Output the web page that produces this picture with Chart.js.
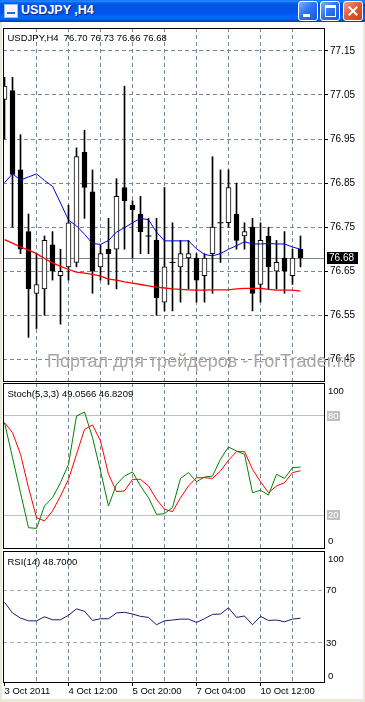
<!DOCTYPE html>
<html>
<head>
<meta charset="utf-8">
<script src="https://cdn.jsdelivr.net/npm/chart.js@4.4.1/dist/chart.umd.min.js"></script>
<style>
  html, body { margin: 0; padding: 0; background: #ece9d8; }
  #win { position: relative; width: 365px; height: 702px; overflow: hidden; }
  #title {
    position: absolute; left: 0; top: 0; width: 365px; height: 22px;
    background: linear-gradient(#0058ee 0%, #3593ff 4%, #288eff 6%, #127dff 8%, #036ffc 10%, #0262ee 14%,
      #0057e5 20%, #0054e3 24%, #0055eb 56%, #005bf5 66%, #026afe 76%, #0062ef 86%, #0052d6 92%, #0040ab 100%);
  }
  #title .txt {
    position: absolute; left: 21px; top: 4px; color: #fff;
    font: bold 12.5px "Liberation Sans", Arial, sans-serif; line-height: 13px;
    text-shadow: 1px 1px 0 #0a2a8a; white-space: pre;
  }
  #icon { position: absolute; left: 4px; top: 4px; width: 12px; height: 12px; background: #f4f8ff; border: 1px solid #9cc0f0; }
  #icon i { position: absolute; left: 2px; top: 7px; width: 8px; height: 2px; background: #2a6ad0; }
  .btn { position: absolute; top: 1px; width: 20px; height: 20px; box-sizing: border-box; border: 1px solid #fff; border-radius: 3px;
    background: linear-gradient(135deg, #7fb2ff 0%, #2f74f2 45%, #1a56dc 100%); }
  #bmin { left: 298px; } #bmax { left: 320px; }
  #bclose { left: 343px; background: linear-gradient(135deg, #f3a489 0%, #e35d33 45%, #c7421a 100%); }
  #bmin i { position: absolute; left: 4px; top: 12px; width: 7px; height: 3px; background: #fff; }
  #bmax i { position: absolute; left: 4px; top: 3px; width: 9px; height: 8px; border: 1px solid #fff; border-top-width: 3px; }
  #bclose i, #bclose b { position: absolute; left: 8px; top: 3px; width: 2px; height: 12px; background: #fff; }
  #bclose i { transform: rotate(45deg); } #bclose b { transform: rotate(-45deg); }
  #client { position: absolute; left: 2px; top: 22px; width: 361px; height: 677px; background: #fff; }
  canvas { position: absolute; left: 0; }
  #mark { position: absolute; left: 47px; top: 352px; white-space: pre; color: #aca4a4;
    font: 18px "Liberation Sans", Arial, sans-serif; line-height: 18px; }
</style>
</head>
<body>
<div id="win">
  <div id="title"><div id="icon"><i></i></div><div class="txt">USDJPY ,H4</div>
    <div class="btn" id="bmin"><i></i></div><div class="btn" id="bmax"><i></i></div><div class="btn" id="bclose"><i></i><b></b></div>
  </div>
  <div id="client"></div>
  <canvas id="cMain" width="365" height="362" style="top:22px"></canvas>
  <canvas id="cStoch" width="365" height="172" style="top:380px"></canvas>
  <canvas id="cRsi" width="365" height="154" style="top:548px"></canvas>
  <div id="mark">Портал для трейдеров - ForTrader.ru</div>
</div>
<script>
// USDJPY H4, bars from 3 Oct 2011 04:00
const symbol = "USDJPY", period = "H4";
const opens  = [77.04, 77.06, 76.88, 76.74, 76.60, 76.61, 76.71, 76.64, 76.66, 76.67,
                76.92, 76.83, 76.66, 76.70, 76.70, 76.84, 76.80, 76.78, 76.73, 76.72,
                76.58, 76.67, 76.66, 76.68, 76.68, 76.64, 76.69, 76.76, 76.76, 76.78,
                76.73, 76.75, 76.62, 76.73, 76.65, 76.68, 76.64, 76.70];
const highs  = [77.09, 77.09, 76.96, 76.78, 76.69, 76.73, 76.74, 76.70, 76.80, 76.93,
                76.97, 76.88, 76.71, 76.77, 76.86, 77.07, 76.81, 76.82, 76.77, 76.77,
                76.84, 76.76, 76.72, 76.72, 76.69, 76.69, 76.91, 76.88, 76.88, 76.85,
                76.76, 76.77, 76.76, 76.75, 76.72, 76.74, 76.70, 76.73];
const lows   = [76.95, 76.75, 76.69, 76.50, 76.52, 76.55, 76.63, 76.53, 76.63, 76.66,
                76.77, 76.60, 76.63, 76.62, 76.61, 76.70, 76.68, 76.69, 76.69, 76.55,
                76.56, 76.56, 76.58, 76.61, 76.58, 76.58, 76.60, 76.67, 76.75, 76.70,
                76.70, 76.56, 76.58, 76.61, 76.61, 76.60, 76.62, 76.66];
const closes = [77.07, 76.87, 76.70, 76.61, 76.62, 76.72, 76.65, 76.65, 76.76, 76.91,
                76.84, 76.65, 76.69, 76.69, 76.82, 76.81, 76.79, 76.74, 76.73, 76.59,
                76.66, 76.67, 76.69, 76.69, 76.63, 76.68, 76.75, 76.76, 76.84, 76.72,
                76.74, 76.60, 76.72, 76.66, 76.67, 76.65, 76.68, 76.68];
// moving averages drawn on the price chart
const maBlue = [76.851, 76.871, 76.857, 76.864, 76.871, 76.856, 76.843, 76.805, 76.766, 76.753,
                76.734, 76.713, 76.711, 76.720, 76.739, 76.749, 76.760, 76.770, 76.767, 76.739,
                76.719, 76.719, 76.719, 76.719, 76.701, 76.688, 76.685, 76.690, 76.700, 76.708,
                76.717, 76.712, 76.712, 76.713, 76.712, 76.712, 76.705, 76.700];
const maRed  = [76.722, 76.714, 76.705, 76.698, 76.690, 76.679, 76.669, 76.661, 76.654, 76.648,
                76.646, 76.643, 76.639, 76.632, 76.630, 76.626, 76.623, 76.620, 76.617, 76.614,
                76.612, 76.610, 76.609, 76.608, 76.607, 76.607, 76.608, 76.608, 76.608, 76.610,
                76.611, 76.611, 76.611, 76.609, 76.607, 76.607, 76.607, 76.605];
// Stoch(5,3,3)
const stochMain   = [76.0, 54.8, 33.5, 12.3, 11.9, 25.5, 30.5, 39.6, 50.7, 80.0,
                     82.4, 66.9, 46.7, 25.5, 38.6, 43.6, 46.1, 37.6, 30.5, 20.4,
                     20.8, 24.5, 42.2, 45.7, 40.2, 43.0, 43.6, 53.8, 61.2, 58.8,
                     56.8, 33.5, 35.0, 32.1, 44.7, 42.2, 48.7, 49.0566];
const stochSignal = [76.0, 69.9, 56.8, 36.6, 18.4, 16.4, 22.4, 31.5, 41.6, 56.8,
                     71.9, 74.6, 64.9, 44.7, 34.2, 34.6, 41.6, 41.6, 37.6, 29.5,
                     23.5, 22.0, 30.5, 37.6, 42.6, 42.6, 42.2, 46.7, 53.2, 58.4,
                     58.4, 47.7, 40.2, 33.5, 37.6, 39.6, 45.7, 46.8209];
const stochLevels = [20, 80];
// RSI(14)
const rsi = [60.9, 52.7, 48.8, 46.7, 46.7, 49.8, 47.5, 47.5, 50.9, 55.8,
             54.0, 47.0, 48.3, 48.3, 52.7, 53.2, 51.9, 50.1, 49.3, 43.7,
             46.7, 47.3, 48.0, 48.0, 45.5, 48.3, 51.6, 51.9, 56.6, 49.3,
             50.4, 43.7, 50.1, 47.0, 47.3, 46.0, 48.0, 48.7];
const rsiLevels = [30, 70];
// axes
const priceTicks = [77.15, 77.05, 76.95, 76.85, 76.75, 76.65, 76.55, 76.45];
const gridBars   = [0, 4, 8, 12, 16, 20, 24, 28, 32, 36];
const dateBars   = [0, 8, 16, 24, 32];
const dateLabels = ["3 Oct 2011", "4 Oct 12:00", "5 Oct 20:00", "7 Oct 04:00", "10 Oct 12:00"];

const FONT = '"Liberation Sans", Arial, sans-serif';
const GRID = "#778899";
const X_MIN = -0.1875, X_MAX = 39.9375;   // 8 px per bar, first bar 1.5 px in
const last = closes.length - 1;

const pts = arr => arr.map((v, i) => ({ x: i, y: v }));

function xAxis(withLabels) {
  return {
    type: "linear", min: X_MIN, max: X_MAX, offset: false, bounds: "data",
    afterBuildTicks: ax => { ax.ticks = gridBars.map(v => ({ value: v })); },
    afterFit: ax => { ax.height = withLabels ? 20 : 0; ax.paddingLeft = 0; ax.paddingRight = 0; },
    grid: {
      offset: false,
      color: c => (c.tick && c.tick.value === 0 ? "rgba(0,0,0,0)" : GRID),
      drawTicks: withLabels, tickLength: 4, tickBorderDash: [],
      tickColor: c => (c.tick && dateBars.includes(c.tick.value) ? "#000" : "rgba(0,0,0,0)")
    },
    border: { display: false, dash: [4, 3] },
    ticks: {
      display: withLabels, autoSkip: false, maxRotation: 0, minRotation: 0, align: "start", padding: 0,
      color: "#000", font: { family: FONT, size: 9.5 },
      callback: v => { const k = dateBars.indexOf(v); return k >= 0 ? dateLabels[k] : ""; }
    }
  };
}

function yFit(ax) { ax.width = 41; ax.paddingTop = 0; ax.paddingBottom = 0; }

const frame = {
  id: "frame",
  afterDraw(chart) {
    const { ctx, chartArea: a } = chart;
    ctx.save();
    ctx.strokeStyle = "#000"; ctx.lineWidth = 1;
    ctx.strokeRect(a.left + 0.5, a.top + 0.5, a.right - a.left, a.bottom - a.top);
    ctx.restore();
  }
};

function caption(text, dy) {
  return {
    id: "caption",
    afterDraw(chart) {
      const { ctx, chartArea: a } = chart;
      ctx.save();
      ctx.font = "9.5px " + FONT; ctx.fillStyle = "#000"; ctx.textBaseline = "alphabetic";
      ctx.fillText(text, a.left + 4.5, a.top + dy);
      ctx.restore();
    }
  };
}

// labels on the right side of the indicator windows
function scaleNotes(items) {
  return {
    id: "scaleNotes",
    afterDraw(chart) {
      const { ctx, chartArea: a, scales: { y } } = chart;
      ctx.save();
      ctx.font = "9.5px " + FONT; ctx.textBaseline = "middle";
      items.forEach(it => {
        const py = Math.round(y.getPixelForValue(it.value)) + (it.dy || 0);
        const x = a.right + it.dx;
        if (it.box) {
          const w = ctx.measureText(it.text).width;
          ctx.fillStyle = it.box;
          ctx.fillRect(x - 1, py - 5, Math.ceil(w) + 2, 10);
        }
        ctx.fillStyle = it.color || "#000";
        ctx.fillText(it.text, x, py + 0.5);
      });
      ctx.restore();
    }
  };
}

// bid line and its price box
const bid = {
  id: "bid",
  beforeDatasetsDraw(chart) {
    const { ctx, chartArea: a, scales: { y } } = chart;
    const py = Math.round(y.getPixelForValue(closes[last])) + 0.5;
    ctx.save();
    ctx.strokeStyle = GRID; ctx.lineWidth = 1;
    ctx.beginPath(); ctx.moveTo(a.left, py); ctx.lineTo(a.right, py); ctx.stroke();
    ctx.restore();
  },
  afterDraw(chart) {
    const { ctx, chartArea: a, scales: { y } } = chart;
    const py = Math.round(y.getPixelForValue(closes[last]));
    const txt = closes[last].toFixed(2);
    ctx.save();
    ctx.font = "10px " + FONT;
    ctx.fillStyle = "#000";
    ctx.fillRect(a.right + 3, py - 6, Math.ceil(ctx.measureText(txt).width) + 5, 12);
    ctx.fillStyle = "#fff"; ctx.textBaseline = "middle";
    ctx.fillText(txt, a.right + 5, py + 0.5);
    ctx.restore();
  }
};

const common = { responsive: false, animation: false, events: [],
  plugins: { legend: { display: false }, tooltip: { enabled: false } } };

// ---------- price window ----------
new Chart(document.getElementById("cMain"), {
  type: "bar",
  data: {
    datasets: [
      { type: "line", data: pts(maBlue), borderColor: "#0000ee", borderWidth: 1, pointRadius: 0, order: -2 },
      { type: "line", data: pts(maRed), borderColor: "#ff0000", borderWidth: 1.3, pointRadius: 0, order: -1 },
      { type: "scatter", order: 0,
        data: pts(closes).filter((p, i) => opens[i] === closes[i]),
        pointStyle: "line", pointRadius: 3, pointBorderColor: "#000", pointBorderWidth: 1 },
      { type: "bar", order: 1, grouped: false, barThickness: 5,
        data: opens.map((o, i) => ({ x: i, y: [o, closes[i]] })),
        backgroundColor: c => (closes[c.dataIndex] >= opens[c.dataIndex] ? "#fff" : "#000"),
        borderColor: "#000", borderWidth: 1, borderSkipped: false },
      { type: "bar", order: 2, grouped: false, barThickness: 1,
        data: lows.map((l, i) => ({ x: i, y: [l, highs[i]] })),
        backgroundColor: "#000", borderWidth: 0 }
    ]
  },
  options: {
    ...common,
    layout: { autoPadding: false, padding: { left: 3, right: 0, top: 6, bottom: 3 } },
    scales: {
      x: xAxis(false),
      y: {
        position: "right", min: 76.401, max: 77.202, beginAtZero: false, bounds: "data",
        afterBuildTicks: ax => { ax.ticks = priceTicks.map(v => ({ value: v })); },
        afterFit: yFit,
        grid: { color: GRID, tickColor: "#000", tickLength: 4, tickBorderDash: [] },
        border: { display: false, dash: [4, 3] },
        ticks: { color: "#000", padding: 2, autoSkip: false, font: { family: FONT, size: 10 },
                 callback: v => v.toFixed(2) }
      }
    }
  },
  plugins: [bid, frame,
    caption(`${symbol},${period}  ${opens[last].toFixed(2)} ${highs[last].toFixed(2)} ${lows[last].toFixed(2)} ${closes[last].toFixed(2)}`, 12.5)]
});

// ---------- stochastic window ----------
new Chart(document.getElementById("cStoch"), {
  type: "line",
  data: {
    datasets: [
      { data: pts(stochMain), borderColor: "#008000", borderWidth: 1, pointRadius: 0, order: 0 },
      { data: pts(stochSignal), borderColor: "#ff0000", borderWidth: 1, pointRadius: 0, order: 1 }
    ]
  },
  options: {
    ...common,
    layout: { autoPadding: false, padding: { left: 3, right: 0, top: 3, bottom: 4 } },
    scales: {
      x: xAxis(false),
      y: {
        position: "right", min: 0, max: 100, bounds: "data",
        afterBuildTicks: ax => { ax.ticks = stochLevels.map(v => ({ value: v })); },
        afterFit: yFit,
        grid: { color: "#c0c0c0", drawTicks: false },
        border: { display: false },
        ticks: { display: false }
      }
    }
  },
  plugins: [frame,
    caption(`Stoch(5,3,3) ${stochMain[last].toFixed(4)} ${stochSignal[last].toFixed(4)}`, 13.5),
    scaleNotes([
      { value: 100, text: "100", dx: 4, dy: 8 },
      ...stochLevels.map(v => ({ value: v, text: String(v), dx: 4, box: "#c0c0c0", color: "#fff" })),
      { value: 0, text: "0", dx: 4, dy: -7 }
    ])]
});

// ---------- RSI window ----------
new Chart(document.getElementById("cRsi"), {
  type: "line",
  data: {
    datasets: [
      { data: pts(rsi), borderColor: "#191970", borderWidth: 1, pointRadius: 0 }
    ]
  },
  options: {
    ...common,
    layout: { autoPadding: false, padding: { left: 3, right: 0, top: 3, bottom: 0 } },
    scales: {
      x: xAxis(true),
      y: {
        position: "right", min: 0, max: 100, bounds: "data",
        afterBuildTicks: ax => { ax.ticks = rsiLevels.map(v => ({ value: v })); },
        afterFit: yFit,
        grid: { color: "#a8a8a8", drawTicks: false },
        border: { display: false, dash: [4, 3] },
        ticks: { display: false }
      }
    }
  },
  plugins: [frame,
    caption(`RSI(14) ${rsi[last].toFixed(4)}`, 14),
    scaleNotes([
      { value: 100, text: "100", dx: 4, dy: 8 },
      ...rsiLevels.map(v => ({ value: v, text: String(v), dx: 2 })),
      { value: 0, text: "0", dx: 4, dy: -6 }
    ])]
});
</script>
</body>
</html>
